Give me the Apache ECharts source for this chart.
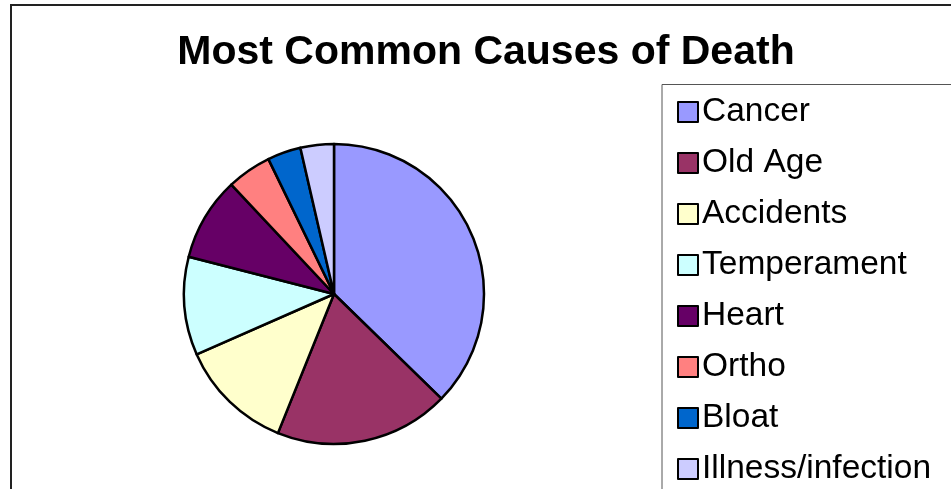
<!DOCTYPE html>
<html>
<head>
<meta charset="utf-8">
<script src="https://cdn.jsdelivr.net/npm/echarts@6/dist/echarts.min.js"></script>
<style>
html,body{margin:0;padding:0;background:#fff;}
#chart{width:951px;height:489px;}
</style>
</head>
<body>
<div id="chart"></div>
<script>
const categories = ["Cancer","Old Age","Accidents","Temperament","Heart","Ortho","Bloat","Illness/infection"];
const values = [37.3, 18.8, 12.3, 10.6, 9.0, 4.8, 3.6, 3.6];
const colors = ["#9999FF","#993366","#FFFFCC","#CCFFFF","#660066","#FF8080","#0066CC","#CCCCFF"];
const titleText = "Most Common Causes of Death";

const chart = echarts.init(document.getElementById('chart'));
chart.setOption({
  animation: false,
  backgroundColor: '#fff',
  title: {
    text: titleText,
    left: 481, top: 27,
    textAlign: 'center',
    textStyle: {fontFamily: 'Liberation Sans, Arial', fontWeight: 'bold', fontSize: 41, color: '#000'}
  },
  graphic: [
    {type: 'polyline', shape: {points: [[11, 500], [11, 5], [960, 5]]}, style: {stroke: '#222', lineWidth: 2, fill: null}, silent: true},
    {type: 'rect', shape: {x: 662, y: 84.5, width: 300, height: 420}, style: {stroke: '#555', lineWidth: 1, fill: null}, silent: true}
  ],
  legend: {
    orient: 'vertical',
    left: 672, top: 90,
    height: 480,
    icon: 'rect',
    itemWidth: 20, itemHeight: 20,
    itemGap: 17,
    data: categories,
    itemStyle: {borderColor: '#000', borderWidth: 2},
    textStyle: {fontFamily: 'Liberation Sans, Arial', fontSize: 33.5, color: '#000', lineHeight: 34, padding: [0,0,0,-1]}
  },
  series: [{
    type: 'pie',
    center: [334, 294],
    radius: 150,
    startAngle: 90,
    clockwise: true,
    label: {show: false},
    labelLine: {show: false},
    itemStyle: {borderColor: '#000', borderWidth: 2.5},
    emphasis: {disabled: true},
    data: categories.map((c, i) => ({name: c, value: values[i], itemStyle: {color: colors[i]}}))
  }]
});
</script>
</body>
</html>
